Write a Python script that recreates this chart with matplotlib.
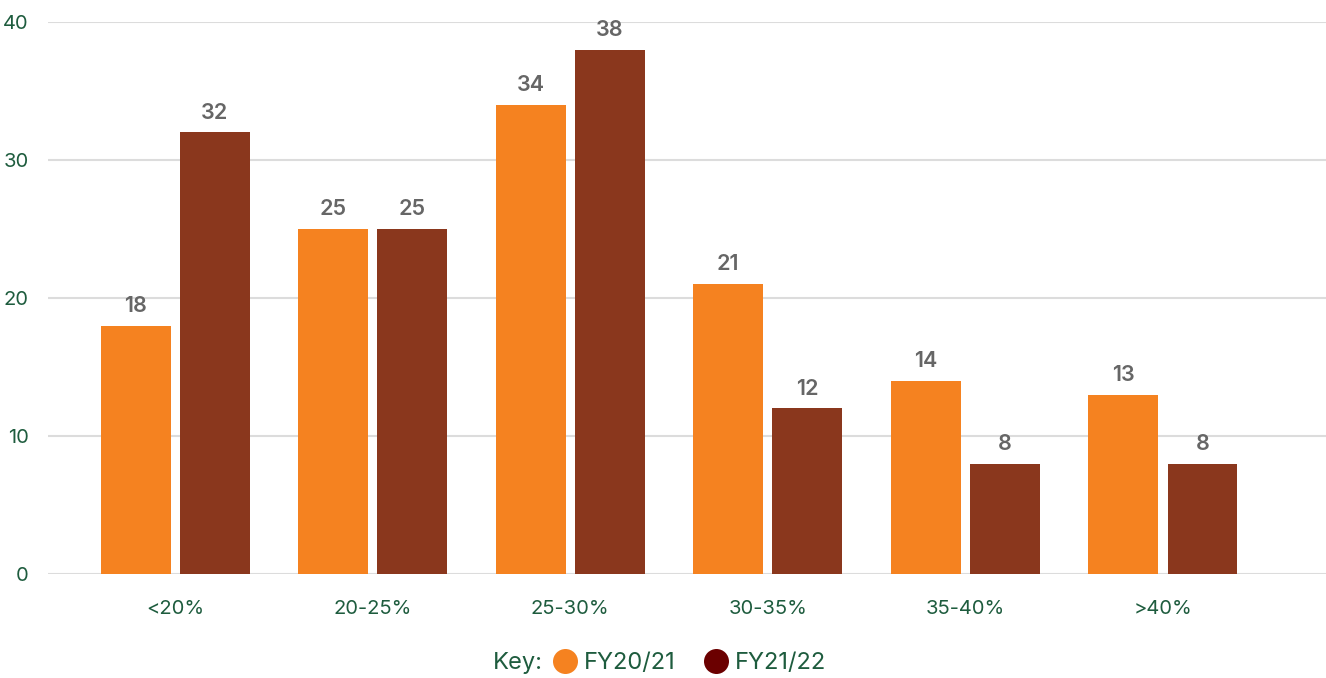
import numpy as np
import matplotlib.pyplot as plt
from matplotlib.lines import Line2D

categories = ['<20%', '20-25%', '25-30%', '30-35%', '35-40%', '>40%']
fy2021 = [18, 25, 34, 21, 14, 13]
fy2122 = [32, 25, 38, 12, 8, 8]
yticks = [0, 10, 20, 30, 40]

orange = '#f58220'
brown = '#8a371d'
key_brown = '#6b0000'
green = '#1e5c3e'
grey = '#666666'

plt.rcParams['font.family'] = ['Inter', 'DejaVu Sans']

fig = plt.figure(figsize=(13.26, 6.78), dpi=100)
ax = fig.add_axes([48 / 1326, 104 / 678, 1 - 48 / 1326, 552 / 678])

x = np.arange(len(categories))
w = 0.354
off = 0.2
b1 = ax.bar(x - off, fy2021, w, color=orange, zorder=3)
b2 = ax.bar(x + off, fy2122, w, color=brown, zorder=3)

for bars, vals in ((b1, fy2021), (b2, fy2122)):
    for r, v in zip(bars, vals):
        ax.annotate(str(v), (r.get_x() + r.get_width() / 2, v),
                    xytext=(0, 7), textcoords='offset points',
                    ha='center', va='bottom', fontsize=15.5,
                    fontweight='semibold', color=grey)

ax.set_xlim(-0.643, 5.825)
ax.set_ylim(0, 40)
ax.set_yticks(yticks)
ax.set_xticks(x)
ax.set_xticklabels(categories)
ax.grid(axis='y', color='#dcdcdc', linewidth=1.5, zorder=0)
ax.tick_params(axis='both', length=0, labelsize=14.5, labelcolor=green)
ax.tick_params(axis='y', pad=14)
ax.tick_params(axis='x', pad=19)
for s in ax.spines.values():
    s.set_visible(False)

# key: label text plus two circle entries
ky = 1 - 663 / 678
fig.text(543 / 1326, ky, 'Key:', ha='right', va='center',
         fontsize=17, color=green)
handles = [
    Line2D([], [], linestyle='none', marker='o', markersize=18,
           markerfacecolor=orange, markeredgecolor='none'),
    Line2D([], [], linestyle='none', marker='o', markersize=18,
           markerfacecolor=key_brown, markeredgecolor='none'),
]
leg = fig.legend(handles, ['FY20/21', 'FY21/22'], ncol=2,
                 loc='center left', bbox_to_anchor=(537 / 1326, ky),
                 frameon=False, fontsize=17, handlelength=1.0,
                 handletextpad=0.3, columnspacing=1.2, borderpad=0.2)
for t in leg.get_texts():
    t.set_color(green)

fig.savefig('out.png', dpi=100)
